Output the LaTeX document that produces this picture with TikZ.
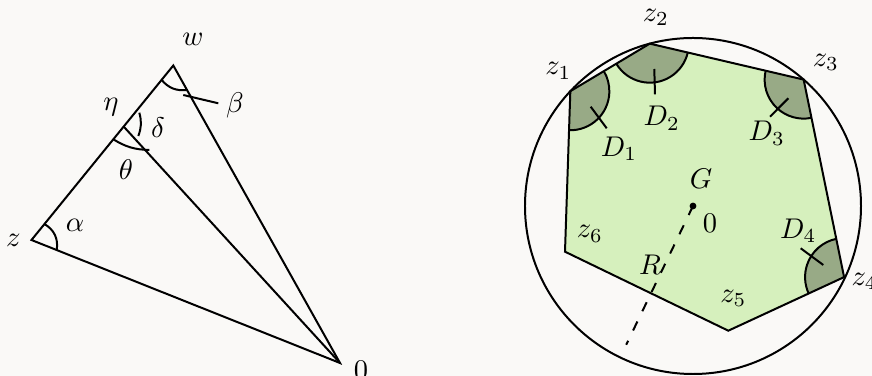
\documentclass[tikz,border=0pt]{standalone}
\usetikzlibrary{calc,angles}
\definecolor{bgc}{RGB}{250,249,247}
\definecolor{lgreen}{RGB}{214,240,189}
\definecolor{dgreen}{RGB}{152,170,134}
\begin{document}
\begin{tikzpicture}[x=0.351pt,y=0.351pt,line width=0.7pt,
  lbl/.style={inner sep=0pt},
  sector/.style={draw,fill=dgreen,angle radius=13.7pt},
  tickline/.style={line cap=butt}]
\fill[bgc] (0,0) rectangle (872,-376);
\useasboundingbox (0,0) rectangle (872,-376);

% ---------- left figure ----------
\coordinate (z) at (31.5,-240);
\coordinate (w) at (173.3,-65.5);
\coordinate (O) at (340,-363);
\coordinate (eta) at ($(z)!0.65!(w)$);
\draw (z) -- (w) -- (O) -- cycle;
\draw (eta) -- (O);

\coordinate (al1) at (44.3,-224);   \coordinate (al2) at (56.7,-250);
\coordinate (be1) at (161.7,-80);   \coordinate (be2) at (186.7,-90);
\coordinate (de1) at (139.3,-112.7);\coordinate (de2) at (138.3,-136);
\coordinate (th1) at (113.3,-139.3);\coordinate (th2) at (149.3,-150);
\draw (al1) to[bend left=35] (al2);
\draw (be1) to[bend right=28] (be2);
\draw (de1) to[bend left=18] (de2);
\draw (th1) to[bend right=15] (th2);
\coordinate (bp1) at (183.3,-95);   \coordinate (bp2) at (218.3,-103.3);
\draw[tickline] (bp1) -- (bp2);

\node[lbl] (lz)  at (13.3,-240) {$z$};
\node[lbl] (lal) at (75,-225)   {$\alpha$};
\node[lbl] (lw)  at (193,-39)   {$w$};
\node[lbl] (let) at (111,-107)  {$\eta$};
\node[lbl] (lde) at (158,-128)  {$\delta$};
\node[lbl] (lth) at (126,-170)  {$\theta$};
\node[lbl] (lbe) at (235,-105)  {$\beta$};
\node[lbl] (lO)  at (361,-370)  {$0$};

% ---------- right figure ----------
\coordinate (C) at (693,-206);
\coordinate (z1) at ($(C)+(136.9:168)$);
\coordinate (z2) at ($(C)+(104.9:168)$);
\coordinate (z3) at ($(C)+(48.8:168)$);
\coordinate (z4) at ($(C)+(-25.2:167)$);
\coordinate (z5) at (728.3,-330.7);
\coordinate (z6) at (565,-251.7);

\fill[lgreen] (z1) -- (z2) -- (z3) -- (z4) -- (z5) -- (z6) -- cycle;
\pic[sector] {angle=z6--z1--z2};
\pic[sector] {angle=z1--z2--z3};
\pic[sector] {angle=z2--z3--z4};
\pic[sector] {angle=z3--z4--z5};
\draw (z1) -- (z2) -- (z3) -- (z4) -- (z5) -- (z6) -- cycle;
\draw (C) circle[radius=58.97pt];

\coordinate (Rend) at ($(C)+(244.3:154)$);
\draw[dash pattern=on 3.5pt off 4pt] (C) -- (Rend);
\fill (C) circle[radius=1.2pt];

\coordinate (t1a) at (590.7,-106.7); \coordinate (t1b) at (606.7,-128.3);
\coordinate (t2a) at (654.3,-69);    \coordinate (t2b) at (655,-94.3);
\coordinate (t3a) at (788.3,-98.3);  \coordinate (t3b) at (770,-116.7);
\coordinate (t4a) at (800.7,-248.3); \coordinate (t4b) at (823.3,-265);
\draw[tickline] (t1a) -- (t1b);
\draw[tickline] (t2a) -- (t2b);
\draw[tickline] (t3a) -- (t3b);
\draw[tickline] (t4a) -- (t4b);

\node[lbl] (lz1) at (558.3,-71)   {$z_1$};
\node[lbl] (lz2) at (656,-17.5)   {$z_2$};
\node[lbl] (lz3) at (826,-62.5)   {$z_3$};
\node[lbl] (lz4) at (864.7,-281.5){$z_4$};
\node[lbl] (lz5) at (733.3,-298.3){$z_5$};
\node[lbl] (lz6) at (590,-234)    {$z_6$};
\node[lbl] (lD1) at (619,-149)    {$D_1$};
\node[lbl] (lD2) at (661.7,-118.3){$D_2$};
\node[lbl] (lD3) at (766.7,-133.3){$D_3$};
\node[lbl] (lD4) at (798.3,-230.7){$D_4$};
\node[lbl] (lG)  at (701,-178.3)  {$G$};
\node[lbl] (l0)  at (710,-223.3)  {$0$};
\node[lbl] (lR)  at (650,-265)    {$R$};
\end{tikzpicture}
\end{document}
